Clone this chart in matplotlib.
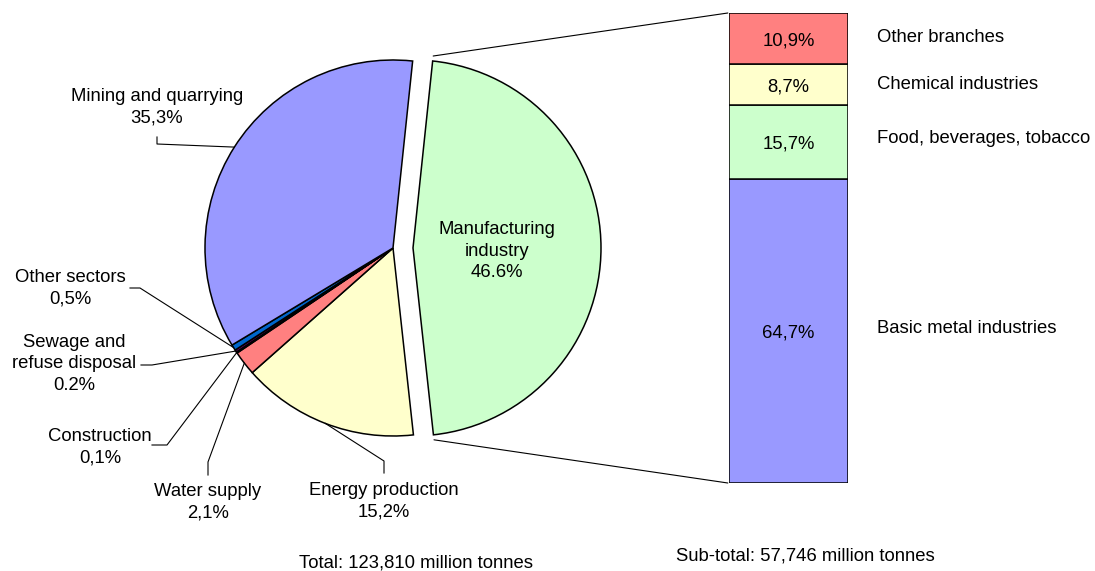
import numpy as np
import matplotlib
matplotlib.use("Agg")
import matplotlib.pyplot as plt
from matplotlib.patches import ConnectionPatch

plt.rcParams['font.family'] = ['Liberation Sans', 'DejaVu Sans']
FS = 13.3

# pie: all sectors, clockwise from the top
sectors = ["Manufacturing industry", "Energy production", "Water supply", "Construction",
           "Sewage and refuse disposal", "Other sectors", "Mining and quarrying"]
shares = [46.6, 15.2, 2.1, 0.1, 0.2, 0.5, 35.3]
share_labels = ["46.6%", "15,2%", "2,1%", "0,1%", "0.2%", "0,5%", "35,3%"]
pie_colors = ["#CCFFCC", "#FFFFCC", "#FF8080", "#000080", "#660066", "#0066CC", "#9999FF"]

# bar: breakdown of manufacturing, bottom to top
branches = ["Basic metal industries", "Food, beverages, tobacco", "Chemical industries", "Other branches"]
branch_shares = [64.7, 15.7, 8.7, 10.9]
branch_labels = ["64,7%", "15,7%", "8,7%", "10,9%"]
bar_colors = ["#9999FF", "#CCFFCC", "#FFFFCC", "#FF8080"]

W, H = 1095, 571
fig = plt.figure(figsize=(W / 100, H / 100), dpi=100)
ax = fig.add_axes([0, 0, 1, 1])


def Y(y):
    # work in pixel-like units measured from the top
    return H - y


# explode is an absolute offset here since the radius is in pixel units
wedges, _ = ax.pie(shares, colors=pie_colors, startangle=84, counterclock=False,
                   center=(393, Y(248)), radius=188, explode=[20, 0, 0, 0, 0, 0, 0],
                   wedgeprops=dict(edgecolor="black", linewidth=1.1))
ax.set_xlim(0, W)
ax.set_ylim(0, H)
ax.set_aspect("equal")
ax.axis("off")


def rim_point(w):
    ang = np.deg2rad((w.theta1 + w.theta2) / 2)
    cx, cy = w.center
    return cx + w.r * np.cos(ang), cy + w.r * np.sin(ang)


# label text position (x, y from top) and the elbow of its leader line
label_pos = {
    "Mining and quarrying": ((157, 107), [(157, 137), (157, 144)]),
    "Other sectors": ((70, 288), [(130, 288), (140, 288)]),
    "Sewage and refuse disposal": ((74, 364), [(141, 365), (152, 365)]),
    "Construction": ((100, 447), [(152, 445), (167, 445)]),
    "Water supply": ((208, 502), [(208, 475), (208, 462)]),
    "Energy production": ((384, 501), [(384, 473), (384, 461)]),
}
label_text = {
    "Mining and quarrying": "Mining and quarrying",
    "Other sectors": "Other sectors",
    "Sewage and refuse disposal": "Sewage and\nrefuse disposal",
    "Construction": "Construction",
    "Water supply": "Water supply",
    "Energy production": "Energy production",
}

for w, name, lab in zip(wedges, sectors, share_labels):
    if name == "Manufacturing industry":
        ax.text(497, Y(251), "Manufacturing\nindustry\n" + lab, ha="center", va="center",
                fontsize=FS, linespacing=1.38)
        continue
    (tx, ty), elbow = label_pos[name]
    ax.text(tx, Y(ty), label_text[name] + "\n" + lab, ha="center", va="center",
            fontsize=FS, linespacing=1.38)
    px, py = rim_point(w)
    xs = [p[0] for p in elbow] + [px]
    ys = [Y(p[1]) for p in elbow] + [py]
    ax.plot(xs, ys, color="black", lw=0.8)

# stacked bar for the manufacturing breakdown
bax = fig.add_axes([729 / W, 88 / H, 119 / W, 470 / H])
bottoms = np.concatenate([[0], np.cumsum(branch_shares)[:-1]])
bax.bar(0, branch_shares, bottom=bottoms, width=1, color=bar_colors,
        edgecolor="black", linewidth=1.1)
bax.set_xlim(-0.5, 0.5)
bax.set_ylim(0, 100)
bax.axis("off")

name_lift = [2.5, 4, 0.5, 1.5]  # pixels the branch names sit above the segment middle
for b, v, name, lab, lift in zip(bottoms, branch_shares, branches, branch_labels, name_lift):
    mid = b + v / 2
    bax.annotate(lab, xy=(0, mid), xytext=(0, -2), textcoords="offset pixels",
                 ha="center", va="center", fontsize=FS)
    bax.annotate(name, xy=(0.5, mid), xytext=(29, lift), textcoords="offset pixels",
                 ha="left", va="center", fontsize=FS)

# lines joining the exploded slice to the bar
mw = wedges[0]
for theta, ybar in [(mw.theta2, 100), (mw.theta1, 0)]:
    a = np.deg2rad(theta)
    cx, cy = mw.center
    start = (cx + (mw.r + 5) * np.cos(a), cy + (mw.r + 5) * np.sin(a))
    con = ConnectionPatch(xyA=start, coordsA=ax.transData, xyB=(-0.51, ybar),
                          coordsB=bax.transData, color="black", lw=0.8)
    fig.add_artist(con)

ax.text(416, Y(563), "Total: 123,810 million tonnes", ha="center", va="center", fontsize=FS)
ax.text(805, Y(556), "Sub-total: 57,746 million tonnes", ha="center", va="center", fontsize=FS)

fig.savefig("out.png", dpi=100)
